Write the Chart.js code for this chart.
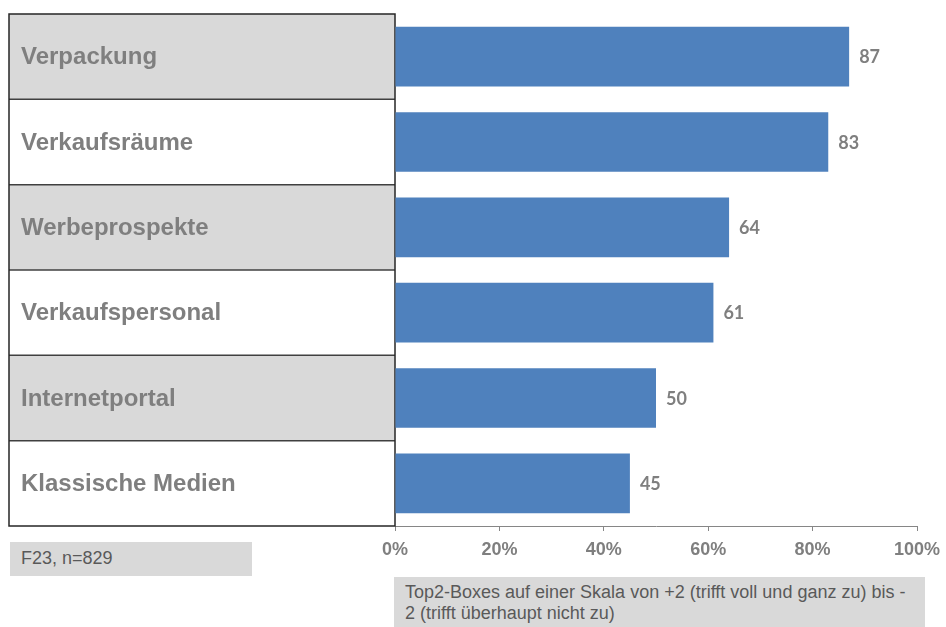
<!DOCTYPE html>
<html>
<head>
<meta charset="utf-8">
<script src="https://cdn.jsdelivr.net/npm/chart.js@4/dist/chart.umd.min.js"></script>
<style>
  html, body { margin: 0; padding: 0; background: #ffffff; }
  #wrap { position: relative; width: 946px; height: 627px; overflow: hidden; }
  #chart { position: absolute; left: 0; top: 0; }
  .note {
    position: absolute; background: #d9d9d9; color: #595959;
    font-family: "Liberation Sans", Arial, sans-serif; font-size: 18px; line-height: 21px;
    box-sizing: border-box; white-space: nowrap;
  }
  #sample { left: 10px; top: 542px; width: 242px; height: 34px; padding: 6px 0 0 11px; }
  #scale { left: 394px; top: 577px; width: 531px; height: 52px; padding: 5px 0 0 11px; }
</style>
</head>
<body>
<div id="wrap">
  <canvas id="chart" width="946" height="627"></canvas>
  <div class="note" id="sample">F23, n=829</div>
  <div class="note" id="scale">Top2-Boxes auf einer Skala von +2 (trifft voll und ganz zu) bis -<br>2 (trifft überhaupt nicht zu)</div>
</div>
<script>
// Aspects rated, share of top-2 answers in percent
const categories = ['Verpackung', 'Verkaufsräume', 'Werbeprospekte', 'Verkaufspersonal', 'Internetportal', 'Klassische Medien'];
const values = [87, 83, 64, 61, 50, 45];
const tickValues = [0, 20, 40, 60, 80, 100];

const GREY_TEXT = '#7f7f7f';
const TABLE_LEFT = 9;

// Label table on the left: alternating row shading, borders and category names
const labelTable = {
  id: 'labelTable',
  beforeDatasetsDraw(chart) {
    const { ctx, chartArea } = chart;
    const y = chart.scales.y;
    const n = categories.length;
    const rowH = (chartArea.bottom - chartArea.top) / n;
    const right = chartArea.left;
    ctx.save();
    categories.forEach((name, i) => {
      const cy = y.getPixelForValue(i);
      const top = cy - rowH / 2;
      ctx.fillStyle = i % 2 === 0 ? '#d9d9d9' : '#ffffff';
      ctx.fillRect(TABLE_LEFT, top, right - TABLE_LEFT, rowH);
      ctx.fillStyle = GREY_TEXT;
      ctx.font = 'bold 24px "Liberation Sans", Arial, sans-serif';
      ctx.textAlign = 'left';
      ctx.textBaseline = 'middle';
      ctx.fillText(name, 21, cy + 1);
    });
    // row separators
    ctx.strokeStyle = '#404040';
    ctx.lineWidth = 1.5;
    for (let i = 1; i < n; i++) {
      const yy = chartArea.top + rowH * i;
      ctx.beginPath();
      ctx.moveTo(TABLE_LEFT, yy);
      ctx.lineTo(right, yy);
      ctx.stroke();
    }
    // outer frame
    ctx.strokeStyle = '#262626';
    ctx.lineWidth = 1.5;
    ctx.strokeRect(TABLE_LEFT, chartArea.top, right - TABLE_LEFT, chartArea.bottom - chartArea.top);
    ctx.restore();
  }
};

// Value labels to the right of each bar
const valueLabels = {
  id: 'valueLabels',
  afterDatasetsDraw(chart) {
    const { ctx } = chart;
    const meta = chart.getDatasetMeta(0);
    ctx.save();
    ctx.fillStyle = GREY_TEXT;
    ctx.font = 'bold 18px Lato, "Open Sans", sans-serif';
    ctx.textAlign = 'left';
    ctx.textBaseline = 'middle';
    meta.data.forEach((bar, i) => {
      ctx.fillText(String(values[i]), bar.x + 10, bar.y + 1);
    });
    ctx.restore();
  }
};

new Chart(document.getElementById('chart'), {
  type: 'bar',
  data: {
    labels: categories,
    datasets: [{
      data: values,
      backgroundColor: '#4f81bd',
      borderWidth: 0,
      barPercentage: 0.7,
      categoryPercentage: 1.0
    }]
  },
  options: {
    indexAxis: 'y',
    responsive: false,
    devicePixelRatio: 1,
    animation: false,
    layout: { padding: { top: 14, right: 29, left: 0, bottom: 0 } },
    plugins: { legend: { display: false }, tooltip: { enabled: false } },
    scales: {
      x: {
        type: 'linear',
        min: 0,
        max: 100,
        afterBuildTicks(scale) { scale.ticks = tickValues.map(v => ({ value: v })); },
        afterFit(scale) {
          scale.height = 101;
          scale.paddingLeft = 0;
          scale.paddingRight = 0;
        },
        ticks: {
          callback: v => v + '%',
          color: GREY_TEXT,
          font: { family: '"Liberation Sans", Arial, sans-serif', size: 18, weight: 'bold' },
          padding: 8,
          maxRotation: 0,
          autoSkip: false
        },
        grid: { drawOnChartArea: false, drawTicks: true, tickLength: 5, color: '#868686' },
        border: { display: true, color: '#868686', width: 1 }
      },
      y: {
        type: 'category',
        afterFit(scale) { scale.width = 395; },
        ticks: { display: false },
        grid: { display: false, drawTicks: false },
        border: { display: false }
      }
    }
  },
  plugins: [labelTable, valueLabels]
});
</script>
</body>
</html>
